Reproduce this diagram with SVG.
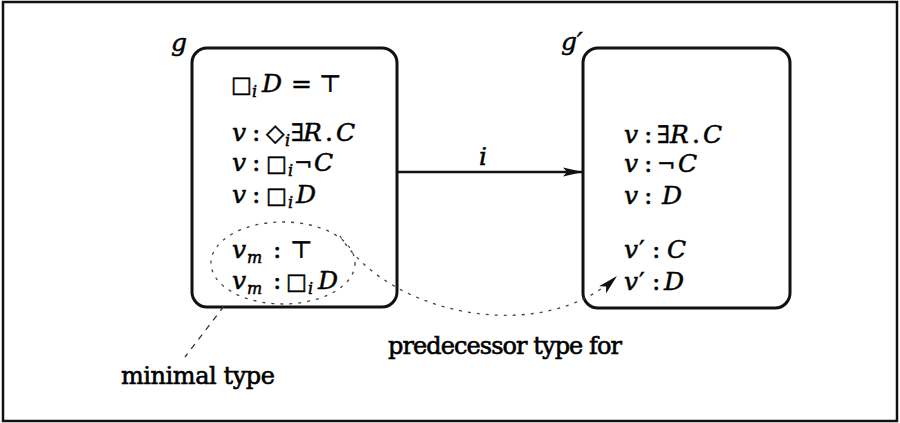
<svg xmlns="http://www.w3.org/2000/svg" width="900" height="423" viewBox="0 0 900 423">
<defs>
<style>
text{font-family:'DejaVu Serif', serif;font-size:25px;fill:#000;stroke:#000;stroke-width:0.5}
.it{font-style:italic}
.sym{font-family:'DejaVu Serif', 'DejaVu Sans', serif;font-size:24px;font-style:normal}
.sq{font-family:'DejaVu Serif', 'DejaVu Sans', serif;font-size:22px;font-style:normal}
.sub{font-style:italic;font-size:16px}
.lbl{font-size:24px;stroke-width:0.6}
.box{fill:none;stroke:#111;stroke-width:3}
.dash{fill:none;stroke:#444;stroke-width:1.3;stroke-dasharray:3 6}
</style>
<marker id="ah" markerWidth="20" markerHeight="10" refX="20" refY="5" orient="auto" markerUnits="userSpaceOnUse">
<path d="M0,0.5 L20,5 L0,9.5 L4,5 Z" fill="#111"/>
</marker>
<marker id="ah2" markerWidth="20" markerHeight="10" refX="20" refY="5" orient="auto" markerUnits="userSpaceOnUse">
<path d="M0,0 L20,5 L0,10 L5,5 Z" fill="#111"/>
</marker>
</defs>
<rect x="3" y="2" width="894" height="419" fill="#fff" stroke="#111" stroke-width="2.5"/>

<g id="node-g">
<rect class="box" x="192" y="48" width="205" height="259" rx="15"/>
<text class="it" x="171" y="51">g</text>
<text y="92"><tspan class="sq" x="231">□</tspan><tspan class="sub" x="252" dy="5">i</tspan><tspan class="it" x="262" dy="-5">D</tspan><tspan x="291">=</tspan><tspan class="sym" x="319">⊤</tspan></text>
<text y="141"><tspan class="it" x="232">v</tspan><tspan x="252">:</tspan><tspan class="sym" x="266">◇</tspan><tspan class="sub" x="285" dy="5">i</tspan><tspan class="sym" x="291" dy="-5">∃</tspan><tspan class="it" x="303">R</tspan><tspan x="325">.</tspan><tspan class="it" x="336">C</tspan></text>
<text y="171"><tspan class="it" x="232">v</tspan><tspan x="252">:</tspan><tspan class="sq" x="266">□</tspan><tspan class="sub" x="288" dy="5">i</tspan><tspan class="sq" x="294" dy="-5">¬</tspan><tspan class="it" x="314">C</tspan></text>
<text y="203"><tspan class="it" x="232">v</tspan><tspan x="252">:</tspan><tspan class="sq" x="266">□</tspan><tspan class="sub" x="288" dy="5">i</tspan><tspan class="it" x="296" dy="-5">D</tspan></text>
<text y="258"><tspan class="it" x="232">v</tspan><tspan class="sub" x="247" dy="5">m</tspan><tspan x="273" dy="-5">:</tspan><tspan class="sym" x="290">⊤</tspan></text>
<text y="289"><tspan class="it" x="232">v</tspan><tspan class="sub" x="247" dy="5">m</tspan><tspan x="273" dy="-5">:</tspan><tspan class="sq" x="286">□</tspan><tspan class="sub" x="308" dy="5">i</tspan><tspan class="it" x="318" dy="-5">D</tspan></text>
</g>

<g id="node-g2">
<rect class="box" x="583" y="48" width="207" height="260" rx="15"/>
<text class="it" x="561" y="50">g′</text>
<text y="143"><tspan class="it" x="624">v</tspan><tspan x="644">:</tspan><tspan class="sym" x="657">∃</tspan><tspan class="it" x="670">R</tspan><tspan x="692">.</tspan><tspan class="it" x="703">C</tspan></text>
<text y="172"><tspan class="it" x="624">v</tspan><tspan x="644">:</tspan><tspan class="sq" x="657">¬</tspan><tspan class="it" x="678">C</tspan></text>
<text y="204"><tspan class="it" x="624">v</tspan><tspan x="644">:</tspan><tspan class="it" x="662">D</tspan></text>
<text y="258"><tspan class="it" x="624">v</tspan><tspan x="639">′</tspan><tspan x="652">:</tspan><tspan class="it" x="667">C</tspan></text>
<text y="290"><tspan class="it" x="624">v</tspan><tspan x="639">′</tspan><tspan x="652">:</tspan><tspan class="it" x="664">D</tspan></text>
</g>

<g id="minimal-type">
<ellipse class="dash" cx="283" cy="263" rx="72" ry="41"/>
<text class="lbl" x="121" y="384" textLength="154">minimal type</text>
</g>

<g id="predecessor-label">
<text class="lbl" x="388" y="354" textLength="234">predecessor type for</text>
</g>

<g id="connectors">
<line x1="397" y1="172" x2="583" y2="172" stroke="#111" stroke-width="2.5" marker-end="url(#ah)"/>
<text class="it" x="479" y="165">i</text>
<line x1="224" y1="306" x2="185" y2="357" stroke="#333" stroke-width="1.3" stroke-dasharray="6 6"/>
<path class="dash" d="M340,236 C392,318 545,345 617,276" marker-end="url(#ah2)"/>
</g>
</svg>
